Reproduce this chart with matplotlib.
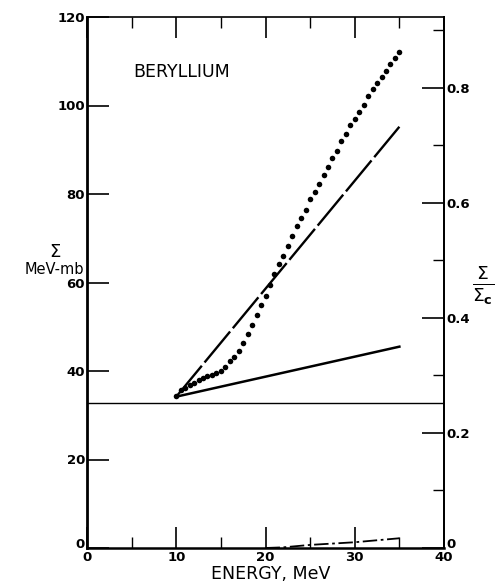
import numpy as np
import matplotlib
matplotlib.use("Agg")
import matplotlib.pyplot as plt
from matplotlib.ticker import MultipleLocator, FixedLocator

# ---- data ----
energy_dots = [10.0, 10.5, 11.0, 11.5, 12.0, 12.5, 13.0, 13.5, 14.0, 14.5,
               15.0, 15.5, 16.0, 16.5, 17.0, 17.5, 18.0, 18.5, 19.0, 19.5,
               20.0, 20.5, 21.0, 21.5, 22.0, 22.5, 23.0, 23.5, 24.0, 24.5,
               25.0, 25.5, 26.0, 26.5, 27.0, 27.5, 28.0, 28.5, 29.0, 29.5,
               30.0, 30.5, 31.0, 31.5, 32.0, 32.5, 33.0, 33.5, 34.0, 34.5, 35.0]
sigma_dots = [34.4, 35.6, 36.2, 36.8, 37.4, 37.9, 38.4, 38.8, 39.0, 39.5,
              40.1, 41.0, 42.2, 43.2, 44.6, 46.3, 48.4, 50.5, 52.6, 55.0,
              57.0, 59.5, 62.0, 64.2, 65.9, 68.3, 70.4, 72.8, 74.6, 76.4,
              78.8, 80.4, 82.3, 84.3, 86.1, 88.1, 89.8, 92.0, 93.6, 95.6,
              97.0, 98.6, 100.2, 102.1, 103.7, 105.0, 106.4, 107.8, 109.4, 110.7, 112.1]

dash_E = [10.0, 35.0]
dash_S = [34.2, 95.2]

solid_E = [10.0, 35.0]
solid_S = [34.2, 45.5]

dashdot_E = [20.0, 22.0, 25.0, 30.0, 35.0]
dashdot_S = [0.0, 0.15, 0.7, 1.3, 2.2]

sigma_c_level = 32.7
sigma_c_ratio_ref = 130.0  # Sigma_c used for right-hand scale

xticks = [0, 10, 20, 30, 40]
yticks = [0, 20, 40, 60, 80, 100, 120]
rticks = [0, 0.2, 0.4, 0.6, 0.8]
rticklabels = ["0", "0.2", "0.4", "0.6", "0.8"]

# ---- figure ----
fig = plt.figure(figsize=(4.98, 5.82), dpi=100)
ax = fig.add_axes([87/498, 1-548/582, (444-87)/498, (548-17)/582])

ax.plot(energy_dots, sigma_dots, linestyle='none', marker='o', markersize=4.0,
        color='black', markeredgewidth=0)
ax.plot(dash_E, dash_S, color='black', lw=1.7, dashes=(17, 1.8))
ax.plot(solid_E, solid_S, color='black', lw=1.8)
ax.plot(dashdot_E, dashdot_S, color='black', lw=1.3, dashes=(8, 2, 1.5, 2))
ax.axhline(sigma_c_level, color='black', lw=1.0)

ax.set_xlim(0, 40)
ax.set_ylim(0, 120)
ax.xaxis.set_major_locator(FixedLocator(xticks))
ax.xaxis.set_minor_locator(MultipleLocator(5))
ax.yaxis.set_major_locator(FixedLocator(yticks))

for s in ['top', 'right']:
    ax.spines[s].set_linewidth(1.2)
ax.spines['left'].set_linewidth(2.0)
ax.spines['bottom'].set_linewidth(1.8)

fs = 9.5
ax.tick_params(axis='x', which='major', direction='in', length=15, width=1.2,
               top=True, labelsize=fs, pad=2.5)
ax.tick_params(axis='x', which='minor', direction='in', length=8, width=1.0, top=True)
ax.tick_params(axis='y', which='major', direction='in', length=16, width=1.2,
               labelsize=fs, pad=1.5)
for lab in ax.get_xticklabels() + ax.get_yticklabels():
    lab.set_fontweight('bold')
# nudge the corner labels so they do not collide
ylabs = ax.get_yticklabels()
ylabs[0].set_verticalalignment('baseline')

ax2 = ax.twinx()
ax2.set_ylim(0, 120/sigma_c_ratio_ref)
ax2.yaxis.set_major_locator(FixedLocator(rticks))
ax2.set_yticklabels(rticklabels)
ax2.yaxis.set_minor_locator(MultipleLocator(0.1))
ax2.tick_params(axis='y', which='major', direction='in', length=16, width=1.2,
                labelsize=fs, pad=1.5)
ax2.tick_params(axis='y', which='minor', direction='in', length=8, width=1.0)
for lab in ax2.get_yticklabels():
    lab.set_fontweight('bold')
rlabs = ax2.get_yticklabels()
rlabs[0].set_verticalalignment('baseline')
for s in ax2.spines.values():
    s.set_visible(False)
ax2.spines['right'].set_visible(True)
ax2.spines['right'].set_linewidth(1.4)

ax.text(0.13, 0.896, "BERYLLIUM", transform=ax.transAxes, fontsize=12.5,
        ha='left', va='center')

fig.text(271/498, 1-574/582, "ENERGY, MeV", fontsize=12.5, ha='center', va='center')
fig.text(55/498, 1-252/582, r"$\Sigma$", fontsize=13, ha='center', va='center')
fig.text(54/498, 1-269/582, "MeV-mb", fontsize=10.5, ha='center', va='center')
fig.text(483/498, 1-285/582, r"$\frac{\Sigma}{\Sigma_{\mathbf{c}}}$", fontsize=19,
         ha='center', va='center')

fig.savefig("out.png", dpi=100)
